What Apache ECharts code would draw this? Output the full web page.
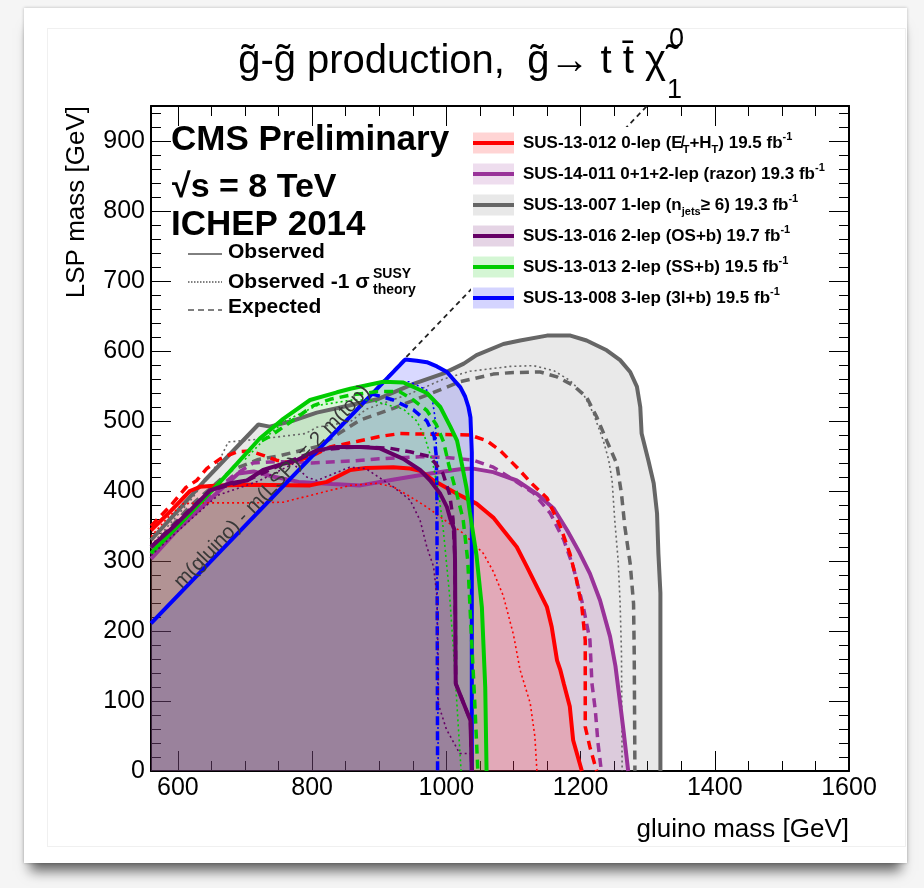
<!DOCTYPE html>
<html>
<head>
<meta charset="utf-8">
<title>gluino pair production limits</title>
<script src="https://cdn.jsdelivr.net/npm/echarts@6/dist/echarts.min.js"></script>
<style>
  html, body { margin: 0; padding: 0; width: 924px; height: 888px; overflow: hidden; background: #f5f5f5; }
  .card { position: absolute; left: 24px; top: 8px; width: 883px; height: 855px; background: #fff;
          box-shadow: 0 14px 12px -6px rgba(0,0,0,0.6), 0 0 3px rgba(0,0,0,0.25); }
  .inner { position: absolute; left: 47px; top: 28px; width: 857px; height: 817px; border: 1px solid #f0f0f0; }
  #chart { position: absolute; left: 0; top: 0; width: 924px; height: 888px; }
</style>
</head>
<body>
<div class="card"></div>
<div class="inner"></div>
<div id="chart"></div>
<script>
// ---- data: [gluino mass, LSP mass] in GeV ----
// SUS-13-007 1-lep (grey)
const greyObs = [[560,330],[600,372],[640,415],[680,455],[720,495],[737,492],[770,500],[807,512],[850,521],[897,531],[951,553],[996,568],[1026,582],[1045,594],[1085,610],[1110,615],[1150,622],[1185,622],[1209,615],[1239,601],[1259,587],[1274,570],[1284,549],[1289,520],[1291,482],[1301,444],[1309,411],[1314,368],[1316,311],[1319,254],[1319,0]];
const greyExp = [[560,318],[620,380],[680,430],[720,445],[750,450],[810,464],[871,501],[921,518],[971,537],[1020,556],[1070,567],[1095,569],[1140,570],[1165,563],[1189,551],[1209,534],[1224,506],[1239,472],[1254,439],[1261,396],[1266,349],[1274,296],[1279,239],[1280,168],[1281,0]];
const greyM1 = [[560,322],[620,388],[660,440],[675,470],[720,474],[790,482],[807,491],[857,499],[881,517],[946,539],[996,560],[1035,571],[1095,578],[1130,579],[1160,572],[1184,558],[1204,539],[1219,511],[1234,472],[1242,444],[1247,415],[1251,358],[1256,301],[1259,239],[1261,168],[1262,0]];
// SUS-14-011 razor (purple)
const purpObs = [[560,303],[600,345],[650,390],[690,425],[713,428],[740,421],[780,413],[830,410],[872,408],[920,416],[976,425],[1020,431],[1040,432],[1070,427],[1105,415],[1135,396],[1160,375],[1180,344],[1199,311],[1214,282],[1229,244],[1244,192],[1252,150],[1257,112],[1264,58],[1271,0]];
const purpExp = [[560,310],[620,370],[680,420],[712,440],[748,442],[800,440],[860,443],[900,446],[960,449],[1000,448],[1040,444],[1070,434],[1100,416],[1130,397],[1155,368],[1175,330],[1189,292],[1204,235],[1214,187],[1217,125],[1222,87],[1226,40],[1231,0]];
// SUS-13-012 0-lep (red)
const redObs = [[560,344],[590,372],[618,400],[633,406],[660,408],[708,409],[797,408],[822,413],[857,430],[880,433],[921,434],[946,432],[961,429],[981,415],[1016,396],[1045,382],[1060,370],[1070,362],[1085,344],[1105,320],[1120,292],[1135,263],[1150,234],[1157,206],[1165,158],[1170,144],[1175,125],[1184,92],[1189,44],[1202,0]];
const redExp = [[560,350],[590,380],[612,405],[628,415],[643,432],[663,446],[688,456],[708,457],[727,451],[747,444],[767,440],[800,450],[827,463],[868,471],[901,478],[931,482],[1035,480],[1060,472],[1080,458],[1105,434],[1128,410],[1150,390],[1170,349],[1184,311],[1194,273],[1202,234],[1207,187],[1207,63],[1214,34],[1224,0]];
const redM1 = [[560,335],[585,362],[608,382],[638,383],[708,383],[757,384],[807,396],[857,408],[896,411],[921,406],[946,392],[971,377],[991,363],[1026,339],[1055,311],[1070,285],[1085,250],[1100,195],[1110,144],[1125,97],[1132,49],[1135,0]];
// SUS-13-008 3-lep (blue)
const blueObs = [[560,211],[939,588],[956,586],[971,584],[986,578],[1001,570],[1011,559],[1021,548],[1028,535],[1033,520],[1036,505],[1038,455],[1038,0]];
const blueExp = [[888,539],[921,530],[951,516],[971,500],[982,478],[985,450],[986,400],[987,0]];
const blueM1 = [[905,556],[946,556],[971,544],[979,532],[983,506],[985,472],[986,300],[988,0]];
// SUS-13-013 2-lep SS (green)
const greenObs = [[560,311],[600,350],[640,390],[663,413],[688,439],[722,475],[757,503],[797,530],[837,541],[857,546],[906,556],[936,555],[971,540],[991,520],[1006,492],[1016,472],[1021,449],[1030,405],[1035,370],[1045,308],[1053,234],[1058,120],[1060,0]];
const greenExp = [[725,472],[737,478],[770,500],[802,522],[827,531],[857,537],[897,542],[930,542],[951,530],[971,515],[985,495],[996,470],[1004,436],[1015,398],[1025,360],[1032,300],[1037,200],[1042,106],[1047,0]];
const greenM1 = [[700,445],[735,480],[760,500],[807,522],[860,530],[886,530],[936,517],[956,500],[968,477],[980,439],[988,401],[995,350],[1005,250],[1012,154],[1022,0]];
// SUS-13-016 2-lep OS (dark purple)
const dpObs = [[560,320],[588,344],[618,372],[648,401],[678,411],[703,415],[727,430],[757,439],[777,444],[807,458],[837,463],[872,463],[901,461],[936,446],[961,430],[976,415],[991,396],[1001,377],[1006,360],[1012,345],[1013,300],[1014,125],[1036,72],[1038,0]];
const dpExp = [[560,320],[648,401],[703,415],[757,439],[807,458],[850,462],[880,463],[916,461],[946,456],[976,449],[995,425],[1005,395],[1010,360],[1013,300],[1014,125],[1036,72],[1038,0]];
const dpM1 = [[560,308],[620,360],[660,394],[720,414],[772,439],[792,420],[807,415],[856,434],[880,432],[921,406],[946,387],[961,358],[971,320],[981,292],[986,250],[988,150],[988,96],[1000,60],[1020,25],[1037,25],[1038,0]];
// kinematic limit m(gluino) - m(LSP) = 2 m(top)
const kinLine = [[560,211],[1299,950]];

const legendNames = [
  'SUS-13-012 0-lep (E\u0338{sub|T}+H{sub|T}) 19.5 fb{sup|-1}',
  'SUS-14-011 0+1+2-lep (razor) 19.3 fb{sup|-1}',
  'SUS-13-007 1-lep (n{sub|jets}\u2265 6) 19.3 fb{sup|-1}',
  'SUS-13-016 2-lep (OS+b) 19.7 fb{sup|-1}',
  'SUS-13-013 2-lep (SS+b) 19.5 fb{sup|-1}',
  'SUS-13-008 3-lep (3l+b) 19.5 fb{sup|-1}'
];

// ---- styles ----
const FONT = "'Liberation Sans', Arial, Helvetica, sans-serif";
// legend order: red, purple, grey, dark purple, green, blue
const legendColors = ['#ff0000', '#993399', '#666666', '#660066', '#00cc00', '#0000ff'];
const legendAlpha = [0.17, 0.17, 0.15, 0.17, 0.17, 0.17];

// drawing order (fills and lines)
const analyses = [
  { obs: greyObs, exp: greyExp, m1: greyM1, color: '#666666', alpha: 0.14 },
  { obs: purpObs, exp: purpExp, m1: null, color: '#993399', alpha: 0.16 },
  { obs: redObs, exp: redExp, m1: redM1, color: '#ff0000', alpha: 0.165 },
  { obs: blueObs, exp: blueExp, m1: blueM1, color: '#0000ff', alpha: 0.15 },
  { obs: greenObs, exp: greenExp, m1: greenM1, color: '#00cc00', alpha: 0.15 },
  { obs: dpObs, exp: dpExp, m1: dpM1, color: '#660066', alpha: 0.15 }
];

function hexA(hex, a) {
  const n = parseInt(hex.slice(1), 16);
  return 'rgba(' + (n >> 16 & 255) + ',' + (n >> 8 & 255) + ',' + (n & 255) + ',' + a + ')';
}

const series = [];
analyses.forEach(function (a) {
  series.push({
    type: 'line', data: a.obs, symbol: 'none', silent: true, z: 1,
    lineStyle: { width: 0, opacity: 0 },
    areaStyle: { color: hexA(a.color, a.alpha), opacity: 1 }
  });
});
series.push({
  type: 'line', data: kinLine, symbol: 'none', silent: true, z: 2,
  lineStyle: { color: '#222', width: 1.8, type: [5, 4] }
});
analyses.forEach(function (a) {
  if (a.m1) series.push({ type: 'line', data: a.m1, symbol: 'none', silent: true, z: 2,
    lineStyle: { color: a.color, width: 1.6, type: [2, 3] } });
  series.push({ type: 'line', data: a.exp, symbol: 'none', silent: true, z: 2,
    lineStyle: { color: a.color, width: 3.5, type: [9, 6] } });
  series.push({ type: 'line', data: a.obs, symbol: 'none', silent: true, z: 2,
    lineStyle: { color: a.color, width: 4 } });
});

function axis(extra) {
  const base = {
    type: 'value',
    axisLine: { show: true, onZero: false, lineStyle: { color: '#000', width: 2 } },
    axisTick: { show: true, inside: true, length: 20, lineStyle: { color: '#000', width: 1 } },
    splitLine: { show: false },
    minorSplitLine: { show: false },
    axisLabel: { show: false }
  };
  return Object.assign(base, extra);
}
function minor(n) {
  return { show: true, splitNumber: n, length: 10, lineStyle: { color: '#000', width: 1 } };
}
function plain(v) { return String(v); }

const xLabel = { show: true, fontSize: 25, color: '#000', fontFamily: FONT, margin: 5, showMinLabel: false, formatter: plain };
const yLabel = { show: true, fontSize: 25, color: '#000', fontFamily: FONT, margin: 6, showMaxLabel: false, formatter: plain };

const chart = echarts.init(document.getElementById('chart'));
chart.setOption({
  animation: false,
  backgroundColor: 'transparent',
  grid: { left: 151, right: 75, top: 106, bottom: 117, outerBoundsMode: 'none' },
  xAxis: [
    axis({ position: 'bottom', min: 560, max: 1600, splitNumber: 5, axisLabel: xLabel, minorTick: minor(4) }),
    axis({ position: 'top', min: 560, max: 1600, splitNumber: 5, minorTick: minor(4) })
  ],
  yAxis: [
    axis({ position: 'left', min: 0, max: 950, interval: 100, axisLabel: yLabel, minorTick: minor(5) }),
    axis({ position: 'right', min: 0, max: 950, interval: 100, minorTick: minor(5) })
  ],
  series: series
});

// ---- text and legend overlay ----
function text(x, y, str, font, align, more) {
  const el = {
    type: 'text', x: x, y: y, z: 100,
    style: {
      text: str, font: font, fill: '#000',
      align: align || 'left', textAlign: align || 'left',
      verticalAlign: 'middle', textVerticalAlign: 'middle'
    }
  };
  if (more) {
    if (more.style) Object.assign(el.style, more.style);
    if (more.el) Object.assign(el, more.el);
  }
  return el;
}
function seg(x1, y1, x2, y2, stroke, width, dash) {
  return { type: 'line', z: 100, shape: { x1: x1, y1: y1, x2: x2, y2: y2 },
    style: { stroke: stroke, lineWidth: width, lineDash: dash || null } };
}

const g = [];
// title
g.push(text(666, 62, 'g\u0303-g\u0303 production,  g\u0303\u2192 t t\u0304 \u03C7\u0303', '40px ' + FONT, 'right'));
g.push(text(669, 40, '0', '27px ' + FONT, 'left'));
g.push(text(667, 91, '1', '27px ' + FONT, 'left'));
// axis titles
g.push(text(849, 830, 'gluino mass [GeV]', '26px ' + FONT, 'right'));
g.push(text(77, 106, 'LSP mass [GeV]', '26px ' + FONT, 'right', { el: { rotation: Math.PI / 2 } }));
// CMS block
g.push(text(171, 140, 'CMS Preliminary', 'bold 35px ' + FONT));
g.push(text(172, 188, '\u221As = 8 TeV', 'bold 34px ' + FONT));
g.push(text(171, 225, 'ICHEP 2014', 'bold 35px ' + FONT));
g.push(seg(188, 254, 222, 254, '#000', 1));
g.push(text(228, 252, 'Observed', 'bold 21px ' + FONT));
g.push(seg(188, 282, 222, 282, '#000', 1, [1.5, 1.5]));
g.push(text(228, 282, 'Observed -1 \u03C3', 'bold 21px ' + FONT));
g.push(text(373, 274, 'SUSY', 'bold 14px ' + FONT));
g.push(text(373, 290, 'theory', 'bold 14px ' + FONT));
g.push(seg(188, 310, 222, 310, '#000', 1.2, [6, 4]));
g.push(text(228, 307, 'Expected', 'bold 21px ' + FONT));
// legend box
g.push({ type: 'rect', z: 99, shape: { x: 471, y: 127, width: 357, height: 188 }, style: { fill: '#fff' } });
const rowY = [143, 174, 205, 236, 267, 298];
legendNames.forEach(function (name, i) {
  const cy = rowY[i];
  g.push({ type: 'rect', z: 100, shape: { x: 473, y: cy - 10.5, width: 41, height: 21 },
    style: { fill: hexA(legendColors[i], legendAlpha[i]) } });
  g.push(seg(473, cy, 514, cy, legendColors[i], 4));
  g.push(text(523, cy, name, 'bold 17px ' + FONT, 'left', { style: {
    lineHeight: 24,
    rich: {
      sub: { fontSize: 11, fontWeight: 'bold', fontFamily: FONT, verticalAlign: 'bottom', lineHeight: 13 },
      sup: { fontSize: 11, fontWeight: 'bold', fontFamily: FONT, verticalAlign: 'top', lineHeight: 13 }
    }
  } }));
});
// kinematic limit label along the diagonal, sitting just above the line
const p1 = chart.convertToPixel({ xAxisIndex: 0, yAxisIndex: 0 }, [600, 251]);
const p2 = chart.convertToPixel({ xAxisIndex: 0, yAxisIndex: 0 }, [900, 551]);
const dx = p2[0] - p1[0], dy = p2[1] - p1[1], len = Math.sqrt(dx * dx + dy * dy);
const pc = chart.convertToPixel({ xAxisIndex: 0, yAxisIndex: 0 }, [748, 399]);
g.push(text(pc[0] + 7 * dy / len, pc[1] - 7 * dx / len, 'm(gluino) - m(LSP) = 2 m(top)', '20.5px ' + FONT, 'center', {
  style: { fill: '#383838' }, el: { rotation: -Math.atan2(dy, dx) }
}));

chart.setOption({ graphic: { elements: g } });
</script>
</body>
</html>
